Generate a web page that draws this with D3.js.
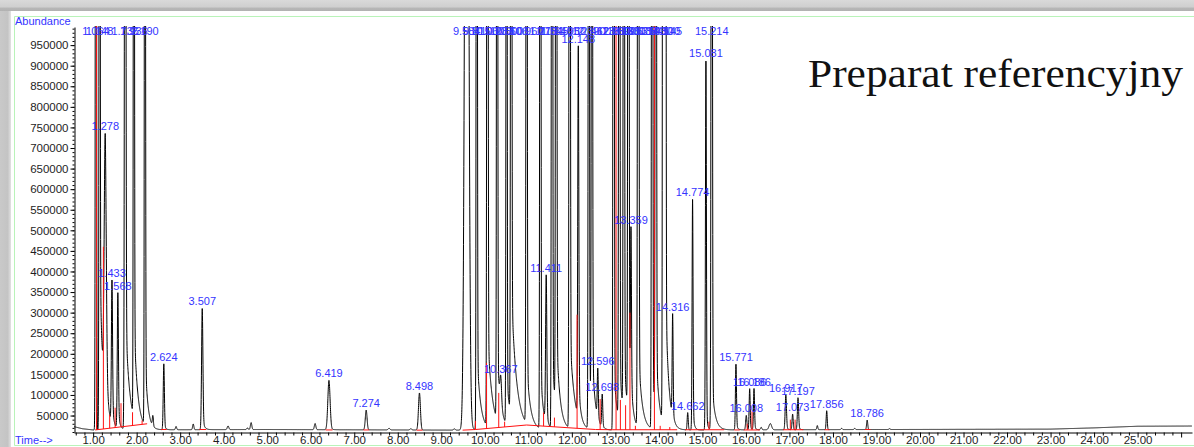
<!DOCTYPE html>
<html>
<head>
<meta charset="utf-8">
<script src="https://cdn.jsdelivr.net/npm/d3@7"></script>
<style>
  html, body { margin: 0; padding: 0; background: #fff; overflow: hidden; }
  svg { display: block; }
</style>
</head>
<body>
<svg id="chart" width="1194" height="447"></svg>
<script>
// ---------------- data ----------------
// Peaks: [retention time (min), height above baseline, sigma (min), tail fraction, tail tau (min), labelled]
const earlyPeaks = [
  [1.064, 4.0e6, 0.010, 0.00, 0.03, 1],
  [1.148, 3.0e6, 0.010, 0.15, 0.07, 1],
  [1.278, 650e3, 0.024, 0.25, 0.05, 1],
  [1.433, 350e3, 0.013, 0.15, 0.04, 1],
  [1.568, 330e3, 0.013, 0.15, 0.04, 1],
  [1.736, 3.0e6, 0.013, 0.10, 0.09, 1],
  [1.936, 3.0e6, 0.010, 0.08, 0.08, 1],
  [2.190, 3.0e6, 0.010, 0.06, 0.06, 1],
  [2.372, 25e3, 0.012, 0, 0, 0],
  [2.624, 160e3, 0.013, 0.10, 0.03, 1],
  [2.905, 8e3, 0.014, 0, 0, 0],
  [3.300, 14e3, 0.014, 0, 0, 0],
  [3.507, 295e3, 0.015, 0.10, 0.04, 1],
  [4.100, 9e3, 0.018, 0, 0, 0],
  [4.545, 4e3, 0.015, 0, 0, 0],
  [4.630, 17e3, 0.016, 0, 0, 0]
];
const midPeaks = [
  [6.100, 15e3, 0.017, 0, 0, 0],
  [6.419, 120e3, 0.026, 0.05, 0.04, 1],
  [7.274, 48e3, 0.020, 0, 0, 1],
  [7.800, 4e3, 0.020, 0, 0, 0],
  [8.300, 3e3, 0.020, 0, 0, 0],
  [8.498, 90e3, 0.022, 0, 0, 1],
  [9.300, 3e3, 0.020, 0, 0, 0]
];
const mainPeaks = [
  [9.584, 2.5e6, 0.040, 0.03, 0.05, 1],
  [9.815, 4.0e6, 0.010, 0.05, 0.08, 1],
  [10.060, 4.0e6, 0.011, 0.06, 0.10, 1],
  [10.283, 4.0e6, 0.010, 0.04, 0.08, 1],
  [10.367, 65e3, 0.018, 0.10, 0.04, 1],
  [10.500, 3.0e6, 0.010, 0.04, 0.08, 1],
  [10.606, 4.0e6, 0.011, 0.08, 0.12, 1],
  [10.960, 3.0e6, 0.011, 0.05, 0.08, 1],
  [11.276, 4.0e6, 0.010, 0.04, 0.06, 1],
  [11.411, 360e3, 0.014, 0.10, 0.04, 1],
  [11.545, 4.0e6, 0.011, 0.05, 0.07, 1],
  [11.640, 4.0e6, 0.011, 0.05, 0.08, 1],
  [11.950, 4.0e6, 0.011, 0.06, 0.10, 1],
  [12.148, 900e3, 0.012, 0.10, 0.05, 1],
  [12.390, 3.0e6, 0.011, 0.05, 0.07, 1],
  [12.462, 3.0e6, 0.011, 0.05, 0.07, 1],
  [12.596, 120e3, 0.012, 0.10, 0.03, 1],
  [12.698, 80e3, 0.012, 0.10, 0.03, 1],
  [12.960, 4.0e6, 0.011, 0.04, 0.07, 1],
  [13.090, 4.0e6, 0.011, 0.04, 0.07, 1],
  [13.195, 4.0e6, 0.011, 0.04, 0.07, 1],
  [13.300, 4.0e6, 0.011, 0.05, 0.06, 1],
  [13.359, 400e3, 0.011, 0.10, 0.04, 1],
  [13.525, 4.0e6, 0.012, 0.05, 0.08, 1],
  [13.845, 4.0e6, 0.011, 0.04, 0.07, 1],
  [13.930, 4.0e6, 0.011, 0.04, 0.07, 1],
  [14.100, 6.0e6, 0.011, 0.04, 0.07, 1],
  [14.145, 6.0e6, 0.011, 0.04, 0.07, 1],
  [14.316, 250e3, 0.011, 0.10, 0.03, 1],
  [14.662, 42e3, 0.012, 0, 0, 1],
  [14.774, 560e3, 0.011, 0.10, 0.03, 1],
  [15.081, 900e3, 0.011, 0.05, 0.03, 1],
  [15.214, 3.0e6, 0.012, 0.04, 0.07, 1]
];
const latePeaks = [
  [15.771, 160e3, 0.012, 0.10, 0.03, 1],
  [16.008, 35e3, 0.014, 0, 0, 1],
  [16.086, 100e3, 0.012, 0.10, 0.03, 1],
  [16.186, 100e3, 0.012, 0.10, 0.03, 1],
  [16.350, 6e3, 0.015, 0, 0, 0],
  [16.560, 15e3, 0.030, 0, 0, 0],
  [16.917, 85e3, 0.015, 0.10, 0.03, 1],
  [17.073, 38e3, 0.013, 0, 0, 1],
  [17.197, 78e3, 0.014, 0.10, 0.03, 1],
  [17.640, 10e3, 0.012, 0, 0, 0],
  [17.856, 46e3, 0.012, 0, 0, 1],
  [18.200, 3e3, 0.015, 0, 0, 0],
  [18.500, 3e3, 0.015, 0, 0, 0],
  [18.786, 23e3, 0.013, 0, 0, 1],
  [19.300, 2e3, 0.015, 0, 0, 0]
];

// Detector baseline: [time, abundance]
const baselinePoints = [
  [0.56, 23000], [0.75, 18000], [1.0, 15000], [5.0, 16000], [9.5, 14500],
  [15.0, 15000], [19.0, 16000], [23.0, 17000], [24.0, 20000], [25.0, 24000], [26.25, 24500]
];

// Integration baselines: [start time, start abundance, end time, end abundance]
const integrationSegments = [
  [1.045, 15000, 2.240, 30000],
  [2.560, 16000, 2.690, 16000],
  [3.440, 16000, 3.600, 16000],
  [6.340, 15000, 6.500, 15000],
  [7.210, 15000, 7.340, 15000],
  [8.430, 14500, 8.570, 14500],
  [9.490, 14500, 9.785, 16000],
  [9.785, 16000, 10.960, 27000],
  [10.960, 27000, 12.545, 16000],
  [12.545, 16000, 12.930, 15500],
  [12.930, 15500, 14.280, 15500],
  [14.280, 15500, 14.420, 15500],
  [14.600, 15500, 14.720, 15500],
  [14.720, 15500, 15.500, 15500],
  [15.730, 15000, 15.860, 15000],
  [15.950, 15000, 16.320, 15000],
  [16.850, 15500, 17.320, 15500],
  [17.810, 15500, 17.920, 15500],
  [18.730, 16000, 18.860, 16000]
];

// Peak-split drop lines: [time, abundance reached]
const dropLines = [
  [1.078, 2e6], [1.235, 460e3], [1.380, 52e3], [1.505, 69e3], [1.640, 80e3],
  [1.905, 58e3], [2.125, 38e3],
  [9.785, 37e3], [10.040, 178e3], [10.320, 105e3], [10.455, 35e3],
  [11.350, 57e3], [11.480, 25e3], [11.600, 45e3], [12.120, 295e3],
  [12.650, 90e3], [13.016, 2e6], [13.115, 88e3], [13.235, 75e3], [13.335, 300e3],
  [13.460, 25e3], [13.897, 2e6], [14.030, 25e3], [14.250, 22e3],
  [15.150, 35e3], [16.030, 30e3], [16.140, 60e3], [17.020, 40e3], [17.130, 40e3]
];

const yTickValues = [50000, 100000, 150000, 200000, 250000, 300000, 350000, 400000, 450000,
  500000, 550000, 600000, 650000, 700000, 750000, 800000, 850000, 900000, 950000];
const xTickLabels = ["1.00", "2.00", "3.00", "4.00", "5.00", "6.00", "7.00", "8.00", "9.00",
  "10.00", "11.00", "12.00", "13.00", "14.00", "15.00", "16.00", "17.00", "18.00", "19.00",
  "20.00", "21.00", "22.00", "23.00", "24.00", "25.00"];
const lastTick = 26;

// ---------------- drawing ----------------
const svg = d3.select("#chart");
const W = 1194, H = 447;
const SANS = "'Liberation Sans', Arial, sans-serif";
const BLUE = "#3434ff";

const x = d3.scaleLinear().domain([0.56, 26.25]).range([74, 1192]);
const y = d3.scaleLinear().domain([10000, 994000]).range([432, 27]);

// window frame
const defs = svg.append("defs");
const gTop = defs.append("linearGradient").attr("id", "topShade").attr("x1", 0).attr("y1", 0).attr("x2", 0).attr("y2", 1);
gTop.append("stop").attr("offset", "0%").attr("stop-color", "#d9d9d9");
gTop.append("stop").attr("offset", "65%").attr("stop-color", "#cfcfcf");
gTop.append("stop").attr("offset", "72%").attr("stop-color", "#b6b6b6");
gTop.append("stop").attr("offset", "100%").attr("stop-color", "#b2b2b2");
const gLeft = defs.append("linearGradient").attr("id", "leftShade").attr("x1", 0).attr("y1", 0).attr("x2", 1).attr("y2", 0);
gLeft.append("stop").attr("offset", "0%").attr("stop-color", "#c9c9c9");
gLeft.append("stop").attr("offset", "70%").attr("stop-color", "#c4c4c4");
gLeft.append("stop").attr("offset", "100%").attr("stop-color", "#e2e2e2");

svg.append("rect").attr("width", W).attr("height", H).attr("fill", "#fff");
svg.append("rect").attr("x", 0).attr("y", 0).attr("width", 11).attr("height", H).attr("fill", "url(#leftShade)");
svg.append("rect").attr("x", 0).attr("y", 0).attr("width", W).attr("height", 11).attr("fill", "url(#topShade)");

// light green report border
svg.append("path")
  .attr("d", `M${W},16.5 H14.5 V445.5 H${W}`)
  .attr("fill", "none").attr("stroke", "#b9f3b9").attr("stroke-width", 1);

// clip region of the plot
defs.append("clipPath").attr("id", "plotClip")
  .append("rect").attr("x", 74).attr("y", 26).attr("width", 1194 - 74).attr("height", 432 - 26);

// signal
const allPeaks = [...earlyPeaks, ...midPeaks, ...mainPeaks, ...latePeaks];
const baseline = d3.scaleLinear().domain(baselinePoints.map(d => d[0])).range(baselinePoints.map(d => d[1])).clamp(true);

function peakValue(p, t) {
  const [rt, h, s, k, tau] = p;
  const d = t - rt;
  if (d < -7 * s) return 0;
  const g = Math.exp(-0.5 * (d / s) * (d / s));
  if (d < 0) return h * g;
  const tail = k > 0 ? k * Math.exp(-d / tau) : 0;
  return h * ((1 - k) * g + tail);
}
function signal(t) {
  let v = baseline(t);
  for (const p of allPeaks) v += peakValue(p, t);
  return v;
}

const times = d3.range(0.56, 26.25, 0.002);
const trace = times.map(t => [t, signal(t)]);

const plot = svg.append("g").attr("clip-path", "url(#plotClip)");
plot.append("path")
  .datum(trace)
  .attr("fill", "none")
  .attr("stroke", "#000")
  .attr("stroke-width", 1)
  .attr("d", d3.line().x(d => x(d[0])).y(d => Math.max(-50, y(d[1]))));

// integration marks
const red = plot.append("g").attr("stroke", "#ff1010").attr("stroke-width", 1).attr("fill", "none");
red.selectAll("line.seg").data(integrationSegments).join("line")
  .attr("class", "seg")
  .attr("x1", d => x(d[0])).attr("y1", d => y(d[1]))
  .attr("x2", d => x(d[2])).attr("y2", d => y(d[3]));

function segmentLevel(t) {
  for (const s of integrationSegments) {
    if (t >= s[0] && t <= s[2]) return s[1] + (s[3] - s[1]) * (t - s[0]) / (s[2] - s[0]);
  }
  return baseline(t);
}
red.selectAll("line.drop").data(dropLines).join("line")
  .attr("class", "drop")
  .attr("x1", d => x(d[0])).attr("x2", d => x(d[0]))
  .attr("y1", d => y(segmentLevel(d[0])))
  .attr("y2", d => Math.max(-50, y(d[1])));

// axes
const axisFont = g => g.selectAll("text").attr("font-family", SANS).attr("font-size", "11.5px").attr("fill", "#1e1e1e");

const yMinor = d3.range(10000, 994000, 10000);
svg.append("g").attr("transform", "translate(74.5,0)")
  .call(d3.axisLeft(y).tickValues(yMinor).tickSize(2).tickFormat("").tickSizeOuter(0))
  .call(g => g.select(".domain").remove())
  .call(g => g.selectAll("line").attr("stroke", "#000"));
svg.append("g").attr("transform", "translate(74.5,0)")
  .call(d3.axisLeft(y).tickValues(yTickValues).tickSize(4).tickPadding(2).tickFormat(d3.format("d")).tickSizeOuter(0))
  .call(axisFont)
  .call(g => g.select(".domain").attr("stroke", "#000"))
  .call(g => g.selectAll(".tick line").attr("stroke", "#000"));

const xMajor = xTickLabels.map(Number).concat([lastTick]);
const xMinor = d3.range(0.6, 26.2, 0.2).filter(v => Math.abs(v - Math.round(v)) > 0.05);
svg.append("g").attr("transform", "translate(0,432.5)")
  .call(d3.axisBottom(x).tickValues(xMinor).tickSize(3).tickFormat("").tickSizeOuter(0))
  .call(g => g.select(".domain").remove())
  .call(g => g.selectAll("line").attr("stroke", "#000"));
svg.append("g").attr("transform", "translate(0,432.5)")
  .call(d3.axisBottom(x).tickValues(xMajor).tickSize(5)
    .tickFormat((d, i) => i < xTickLabels.length ? xTickLabels[i] : "").tickSizeOuter(0))
  .call(axisFont)
  .call(g => g.selectAll(".tick text").attr("y", 3.6).attr("dy", "0.71em"))
  .call(g => g.select(".domain").attr("stroke", "#000"))
  .call(g => g.selectAll(".tick line").attr("stroke", "#000"));

// axis titles
svg.append("text").attr("x", 15).attr("y", 25).text("Abundance")
  .attr("font-family", SANS).attr("font-size", "11px").attr("fill", BLUE);
svg.append("text").attr("x", 15).attr("y", 444).text("Time-->")
  .attr("font-family", SANS).attr("font-size", "11px").attr("fill", BLUE);

// retention time labels
const labelled = allPeaks.filter(p => p[5] === 1);
svg.append("g").selectAll("text").data(labelled).join("text")
  .attr("x", d => x(d[0]))
  .attr("y", d => Math.max(34.5, y(signal(d[0])) - 3))
  .attr("text-anchor", "middle")
  .attr("font-family", SANS).attr("font-size", "11px").attr("fill", BLUE)
  .text(d => d[0].toFixed(3));

// sample caption
svg.append("text").attr("x", 808).attr("y", 87)
  .attr("font-family", "'Liberation Serif', 'Times New Roman', serif")
  .attr("font-size", "41px").attr("fill", "#111")
  .attr("textLength", 375).attr("lengthAdjust", "spacingAndGlyphs")
  .text("Preparat referencyjny");
</script>
</body>
</html>
